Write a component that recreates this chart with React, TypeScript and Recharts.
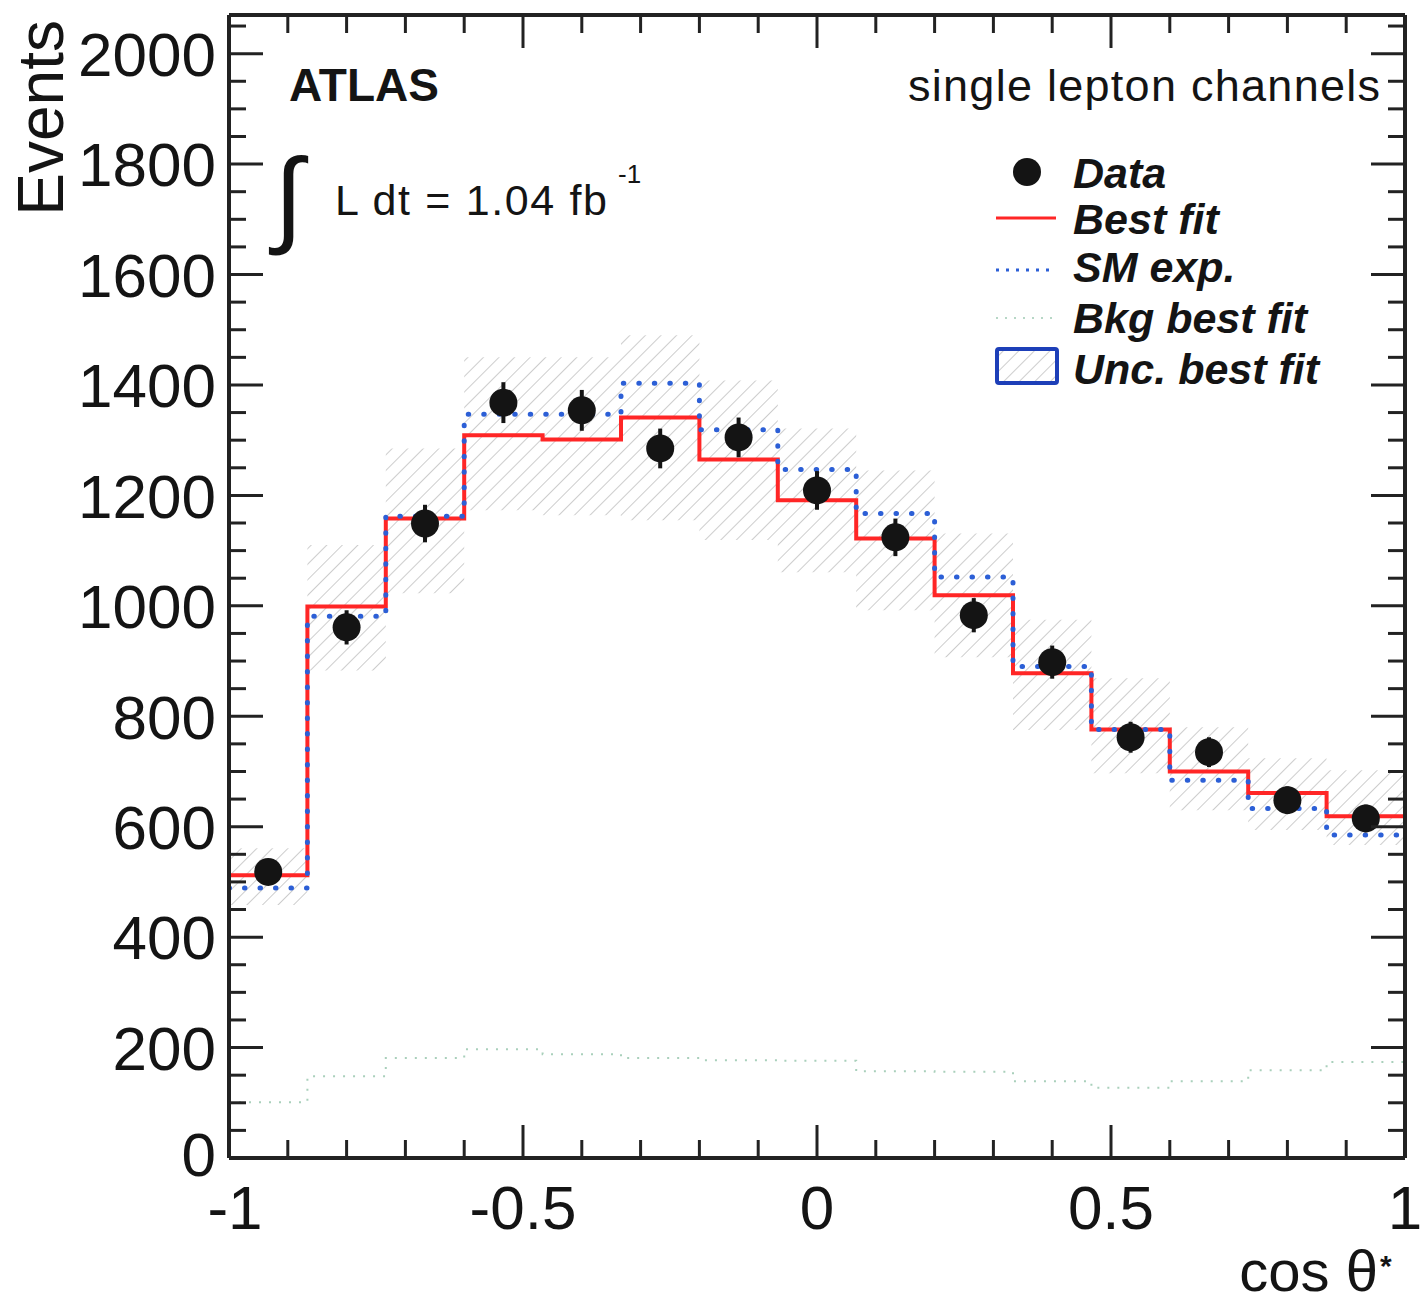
import { Area, ComposedChart, ErrorBar, Line, ReferenceLine, Scatter, XAxis, YAxis } from "recharts";

// cos theta* distribution, 15 equal bins between -1 and 1
const BIN_COUNT = 15;
const X_MIN = -1;
const X_MAX = 1;
const Y_MAX = 2070;

const bestFit = [512, 999, 1158, 1309, 1301, 1341, 1265, 1191, 1122, 1019, 878, 776, 700, 661, 619];
const smExpected = [489, 981, 1162, 1347, 1347, 1403, 1319, 1247, 1167, 1052, 890, 776, 684, 633, 585];
const bkgBestFit = [101, 148, 181, 197, 188, 181, 177, 176, 157, 156, 139, 127, 139, 159, 174];
const uncLow = [458, 883, 1023, 1173, 1164, 1155, 1119, 1061, 992, 907, 775, 697, 630, 594, 567];
const uncHigh = [561, 1110, 1285, 1450, 1450, 1490, 1408, 1321, 1245, 1131, 975, 869, 780, 724, 702];
const dataEvents = [518, 961, 1149, 1368, 1354, 1285, 1305, 1209, 1124, 983, 898, 762, 735, 648, 615];
const dataErrors = [23, 31, 34, 37, 37, 36, 36, 35, 34, 31, 30, 28, 27, 25, 25];

const xTicks = [-1, -0.9, -0.8, -0.7, -0.6, -0.5, -0.4, -0.3, -0.2, -0.1, 0, 0.1, 0.2, 0.3, 0.4, 0.5, 0.6, 0.7, 0.8, 0.9, 1];
const yMajorTicks = [0, 200, 400, 600, 800, 1000, 1200, 1400, 1600, 1800, 2000];
const Y_MINOR_STEP = 50;

const WIDTH = 1421;
const HEIGHT = 1306;
const PLOT_LEFT = 229;
const PLOT_RIGHT = 1405;
const PLOT_TOP = 15;
const PLOT_BOTTOM = 1158;

const FONT = "'Liberation Sans', Arial, Helvetica, sans-serif";
const INK = "#141414";
const FRAME = "#222";
const RED = "#ff2626";
const BLUE = "#2c5fd6";
const BKG = "#6fb08e";
const HATCH = "#cdcdcd";

const binWidth = (X_MAX - X_MIN) / BIN_COUNT;

// stepAfter wants one extra point on the right edge repeating the last bin
const stepData = Array.from({ length: BIN_COUNT + 1 }, (_, i) => {
  const bin = Math.min(i, BIN_COUNT - 1);
  return {
    x: X_MIN + i * binWidth,
    bestFit: bestFit[bin],
    smExp: smExpected[bin],
    bkg: bkgBestFit[bin],
    unc: [uncLow[bin], uncHigh[bin]],
  };
});

const pointData = dataEvents.map((events, i) => ({
  x: X_MIN + (i + 0.5) * binWidth,
  events,
  err: dataErrors[i],
}));

const yTicks = yMajorTicks
  .flatMap((m) => [0, 1, 2, 3].map((k) => m + k * Y_MINOR_STEP))
  .filter((v) => v < Y_MAX);

function isMajorX(v: number) {
  return Math.abs(v * 2 - Math.round(v * 2)) < 1e-6;
}

function XTick({ x, y, payload }: any) {
  const v = payload.value as number;
  const major = isMajorX(v);
  const len = major ? 33 : 18;
  return (
    <g>
      <line x1={x} x2={x} y1={y} y2={y - len} stroke={FRAME} strokeWidth={3} />
      <line x1={x} x2={x} y1={PLOT_TOP} y2={PLOT_TOP + len} stroke={FRAME} strokeWidth={3} />
      {major ? (
        <text x={x + (v === X_MIN ? 6 : 0)} y={y + 71} textAnchor="middle" fontSize={62} fontFamily={FONT} fill={INK}>
          {String(v)}
        </text>
      ) : null}
    </g>
  );
}

function YTick({ x, y, payload }: any) {
  const v = payload.value as number;
  const major = v % 200 === 0;
  const len = major ? 34 : 17;
  return (
    <g>
      <line x1={x} x2={x + len} y1={y} y2={y} stroke={FRAME} strokeWidth={3} />
      <line x1={PLOT_RIGHT - len} x2={PLOT_RIGHT} y1={y} y2={y} stroke={FRAME} strokeWidth={3} />
      {major ? (
        <text x={x - 13} y={y - (v === 0 ? 4 : 0)} dy="0.36em" textAnchor="end" fontSize={62} fontFamily={FONT} fill={INK}>
          {v}
        </text>
      ) : null}
    </g>
  );
}

function DataDot({ cx, cy }: any) {
  if (cx == null || cy == null) {
    return null;
  }
  return <circle cx={cx} cy={cy} r={14} fill={INK} />;
}

const legendText = {
  fontFamily: FONT,
  fontSize: 43,
  fontWeight: 700,
  fontStyle: "italic",
  fill: INK,
} as const;

function Annotations() {
  return (
    <svg
      width={WIDTH}
      height={HEIGHT}
      style={{ position: "absolute", left: 0, top: 0, pointerEvents: "none" }}
    >
      <defs>
        <pattern id="legend-hatch" patternUnits="userSpaceOnUse" width={11} height={11} patternTransform="rotate(45)">
          <line x1={0} y1={0} x2={0} y2={11} stroke={HATCH} strokeWidth={2} />
        </pattern>
      </defs>

      <text transform="translate(63, 20) rotate(-90)" textAnchor="end" fontSize={64} fontFamily={FONT} fill={INK}>
        Events
      </text>

      <text x={289} y={101} fontSize={46} fontWeight={700} fontFamily={FONT} fill={INK}>
        ATLAS
      </text>
      <text x={274} y={233} fontSize={106} fontFamily={FONT} fill={INK}>
        ∫
      </text>
      <text x={335} y={215} fontSize={43} fontFamily={FONT} fill={INK} textLength={272} lengthAdjust="spacing">
        L dt = 1.04 fb
      </text>
      <text x={618} y={183} fontSize={26} fontFamily={FONT} fill={INK}>
        -1
      </text>

      <text x={908} y={101} fontSize={45} fontFamily={FONT} fill={INK} textLength={472} lengthAdjust="spacing">
        single lepton channels
      </text>

      <circle cx={1027} cy={172} r={14} fill={INK} />
      <text x={1073} y={188} {...legendText}>Data</text>

      <line x1={996} x2={1056} y1={218} y2={218} stroke={RED} strokeWidth={3} />
      <text x={1073} y={234} {...legendText}>Best fit</text>

      <line x1={996} x2={1056} y1={270} y2={270} stroke={BLUE} strokeWidth={3} strokeDasharray="3 7" />
      <text x={1073} y={282} {...legendText}>SM exp.</text>

      <line x1={996} x2={1056} y1={318} y2={318} stroke={BKG} strokeOpacity={0.5} strokeWidth={2} strokeDasharray="2 7" />
      <text x={1073} y={333} {...legendText}>Bkg best fit</text>

      <rect x={997} y={349} width={60} height={34} fill="url(#legend-hatch)" stroke="#1d3fb8" strokeWidth={4} rx={2} />
      <text x={1073} y={384} {...legendText}>Unc. best fit</text>

      <text x={1378} y={1291} textAnchor="end" fontSize={58} fontFamily={FONT} fill={INK}>
        cos θ
      </text>
      <text x={1380} y={1276} fontSize={30} fontWeight={700} fontFamily={FONT} fill={INK}>
        *
      </text>
    </svg>
  );
}

export default function App() {
  return (
    <div style={{ position: "absolute", left: 0, top: 0, width: WIDTH, height: HEIGHT, background: "#fff" }}>
      <ComposedChart
        width={WIDTH}
        height={HEIGHT}
        data={stepData}
        margin={{ top: PLOT_TOP, right: WIDTH - PLOT_RIGHT, bottom: 0, left: 0 }}
      >
        <defs>
          <pattern id="unc-hatch" patternUnits="userSpaceOnUse" width={11} height={11} patternTransform="rotate(45)">
            <line x1={0} y1={0} x2={0} y2={11} stroke={HATCH} strokeWidth={2} />
          </pattern>
        </defs>

        <XAxis
          dataKey="x"
          type="number"
          domain={[X_MIN, X_MAX]}
          ticks={xTicks}
          interval={0}
          allowDataOverflow
          height={HEIGHT - PLOT_BOTTOM}
          tickSize={0}
          tickMargin={0}
          tickLine={false}
          axisLine={{ stroke: FRAME, strokeWidth: 4 }}
          tick={<XTick />}
        />
        <YAxis
          type="number"
          domain={[0, Y_MAX]}
          ticks={yTicks}
          interval={0}
          allowDataOverflow
          width={PLOT_LEFT}
          tickSize={0}
          tickMargin={0}
          tickLine={false}
          axisLine={{ stroke: FRAME, strokeWidth: 4 }}
          tick={<YTick />}
        />

        <Area
          dataKey="unc"
          type="stepAfter"
          stroke="none"
          fill="url(#unc-hatch)"
          fillOpacity={1}
          dot={false}
          activeDot={false}
          isAnimationActive={false}
        />
        <Line
          dataKey="bkg"
          type="stepAfter"
          stroke={BKG}
          strokeOpacity={0.6}
          strokeWidth={2}
          strokeDasharray="2 8"
          dot={false}
          activeDot={false}
          isAnimationActive={false}
        />
        <Line
          dataKey="bestFit"
          type="stepAfter"
          stroke={RED}
          strokeWidth={4}
          dot={false}
          activeDot={false}
          isAnimationActive={false}
        />
        <Line
          dataKey="smExp"
          type="stepAfter"
          stroke={BLUE}
          strokeWidth={5}
          strokeLinecap="round"
          strokeDasharray="0.5 15"
          dot={false}
          activeDot={false}
          isAnimationActive={false}
        />

        <ReferenceLine y={Y_MAX} stroke={FRAME} strokeWidth={4} ifOverflow="visible" />
        <ReferenceLine x={X_MAX} stroke={FRAME} strokeWidth={4} ifOverflow="visible" />

        <Scatter data={pointData} dataKey="events" shape={<DataDot />} isAnimationActive={false}>
          <ErrorBar dataKey="err" direction="y" width={0} stroke={INK} strokeWidth={4} isAnimationActive={false} />
        </Scatter>
      </ComposedChart>
      <Annotations />
    </div>
  );
}
